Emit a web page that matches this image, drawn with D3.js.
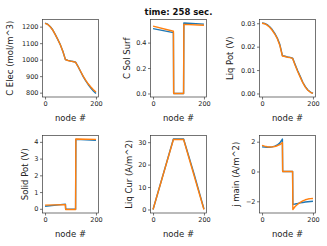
<!DOCTYPE html>
<html><head><meta charset="utf-8">
<script src="https://cdn.jsdelivr.net/npm/d3@7"></script>
<style>
html,body{margin:0;padding:0;background:#fff;}
svg{display:block;font-family:"DejaVu Sans",sans-serif;}
</style></head>
<body>
<svg id="c" width="327" height="246"></svg>
<script>
// ---- data ----
const titleText = "time: 258 sec.";
const xTicks = [0, 200];

const nodesSmooth = [0,10,20,30,40,50,60,70,80,90,100,110,120,130,140,150,160,170,180,190,200];
const nodesStep = [0,80,81,120,121,200];
const nodesLiqCur = [0,80,120,160,200];
const nodesJmain = [0,10,20,30,40,50,60,70,80,81,120,121,130,140,150,160,170,180,190,200];

const cElecBlue   = [1222,1215,1201,1181,1153,1123,1091,1051,1001,996,992,989,985,958,927,897,871,848,828,810,795];
const cElecOrange = [1220,1214,1200,1180,1152,1122,1090,1050,1000,995,991,988,984,957,928,899,874,852,834,818,804];

const cSolBlue   = [0.510,0.478,0.0,0.0,0.554,0.545];
const cSolOrange = [0.530,0.489,0.0,0.0,0.543,0.536];

const liqPotBlue   = [0.0301,0.0299,0.0294,0.0285,0.0273,0.0257,0.0237,0.0209,0.0162,0.0159,0.0156,0.0154,0.0151,0.0124,0.0097,0.0073,0.0048,0.0029,0.0015,0.0006,0.0000];
const liqPotOrange = [0.0300,0.0298,0.0292,0.0283,0.0270,0.0254,0.0234,0.0205,0.0160,0.0158,0.0155,0.0153,0.0150,0.0121,0.0094,0.0070,0.0046,0.0027,0.0014,0.0005,0.0000];

const solidPotBlue   = [0.15,0.28,-0.02,-0.02,4.15,4.10];
const solidPotOrange = [0.22,0.25,-0.04,-0.04,4.17,4.15];

const liqCurBlue   = [0,31.4,31.4,16.3,0.2];
const liqCurOrange = [0,31.2,31.2,15.6,0];

const jMainBlue   = [1.65,1.64,1.63,1.63,1.65,1.70,1.78,1.92,2.18,0,0,-2.20,-2.18,-2.15,-2.11,-2.08,-2.05,-2.03,-2.01,-2.00];
const jMainOrange = [1.75,1.70,1.66,1.64,1.65,1.68,1.73,1.80,1.95,0,0,-2.55,-2.35,-2.20,-2.07,-1.97,-1.90,-1.85,-1.82,-1.81];

const panels = [
  {ylabel:"C Elec (mol/m^3)", nodes:nodesSmooth, blue:cElecBlue, orange:cElecOrange, yticks:[800,900,1000,1100,1200], fmt:d3.format("d")},
  {ylabel:"C Sol Surf", nodes:nodesStep, blue:cSolBlue, orange:cSolOrange, yticks:[0,0.2,0.4], fmt:d3.format(".1f")},
  {ylabel:"Liq Pot (V)", nodes:nodesSmooth, blue:liqPotBlue, orange:liqPotOrange, yticks:[0,0.01,0.02,0.03], fmt:d3.format(".2f")},
  {ylabel:"Solid Pot (V)", nodes:nodesStep, blue:solidPotBlue, orange:solidPotOrange, yticks:[0,1,2,3,4], fmt:d3.format("d")},
  {ylabel:"Liq Cur (A/m^2)", nodes:nodesLiqCur, blue:liqCurBlue, orange:liqCurOrange, yticks:[0,10,20,30], fmt:d3.format("d")},
  {ylabel:"j main (A/m^2)", nodes:nodesJmain, blue:jMainBlue, orange:jMainOrange, yticks:[-2,0,2], fmt:d=>d3.format("d")(d).replace("-","\u2212")}
];

// ---- layout ----
const colLeft = [42.5, 150.5, 259.5];
const rowTop = [19.5, 135.5];
const W = 56, H = 77.5;
const ylabelX = [10, 127, 230, 25, 129, 236];
const blueC = "#1f77b4", orangeC = "#ff7f0e", spineC = "#3a3a3a";

const svg = d3.select("#c");

panels.forEach((p, i) => {
  const L = colLeft[i % 3], T = rowTop[Math.floor(i / 3)];
  const x = d3.scaleLinear().domain([-10, 210]).range([L, L + W]);
  const all = p.blue.concat(p.orange);
  const lo = d3.min(all), hi = d3.max(all), pad = (hi - lo) * 0.05;
  const y = d3.scaleLinear().domain([lo - pad, hi + pad]).range([T + H, T]);

  const g = svg.append("g");
  const line = vals => d3.line().x((d, k) => x(p.nodes[k])).y(d => y(d))(vals);
  [[p.blue, blueC], [p.orange, orangeC]].forEach(([vals, col]) => {
    g.append("path").attr("d", line(vals)).attr("fill", "none")
      .attr("stroke", col).attr("stroke-width", 1.4).attr("stroke-linejoin", "round");
  });

  // axes
  const xa = d3.axisBottom(x).tickValues(xTicks).tickSize(2.5).tickPadding(1.5).tickFormat(d3.format("d"));
  const ya = d3.axisLeft(y).tickValues(p.yticks).tickSize(2.5).tickPadding(1.5).tickFormat(p.fmt);
  const gx = g.append("g").attr("transform", `translate(0,${T + H})`).call(xa);
  const gy = g.append("g").attr("transform", `translate(${L},0)`).call(ya);
  [gx, gy].forEach(a => {
    a.select(".domain").remove();
    a.selectAll("line").attr("stroke", spineC).attr("stroke-width", 0.7);
    a.selectAll("text").attr("fill", "#222").style("font-size", "6.5px").style("font-family", "DejaVu Sans");
  });

  g.append("rect").attr("x", L).attr("y", T).attr("width", W).attr("height", H)
    .attr("fill", "none").attr("stroke", spineC).attr("stroke-width", 0.7);

  g.append("text").attr("x", L + W / 2).attr("y", T + H + 23.5)
    .attr("text-anchor", "middle").style("font-size", "8.5px").attr("fill", "#222").text("node #");

  g.append("text").attr("transform", `translate(${ylabelX[i]},${T + H / 2}) rotate(-90)`)
    .attr("text-anchor", "middle").attr("dy", "0.35em")
    .style("font-size", "8.5px").attr("fill", "#222").text(p.ylabel);
});

svg.append("text").attr("x", colLeft[1] + W / 2).attr("y", 15)
  .attr("text-anchor", "middle").style("font-size", "8.5px").style("font-weight", "bold")
  .attr("fill", "#111").text(titleText);
</script>
</body></html>
